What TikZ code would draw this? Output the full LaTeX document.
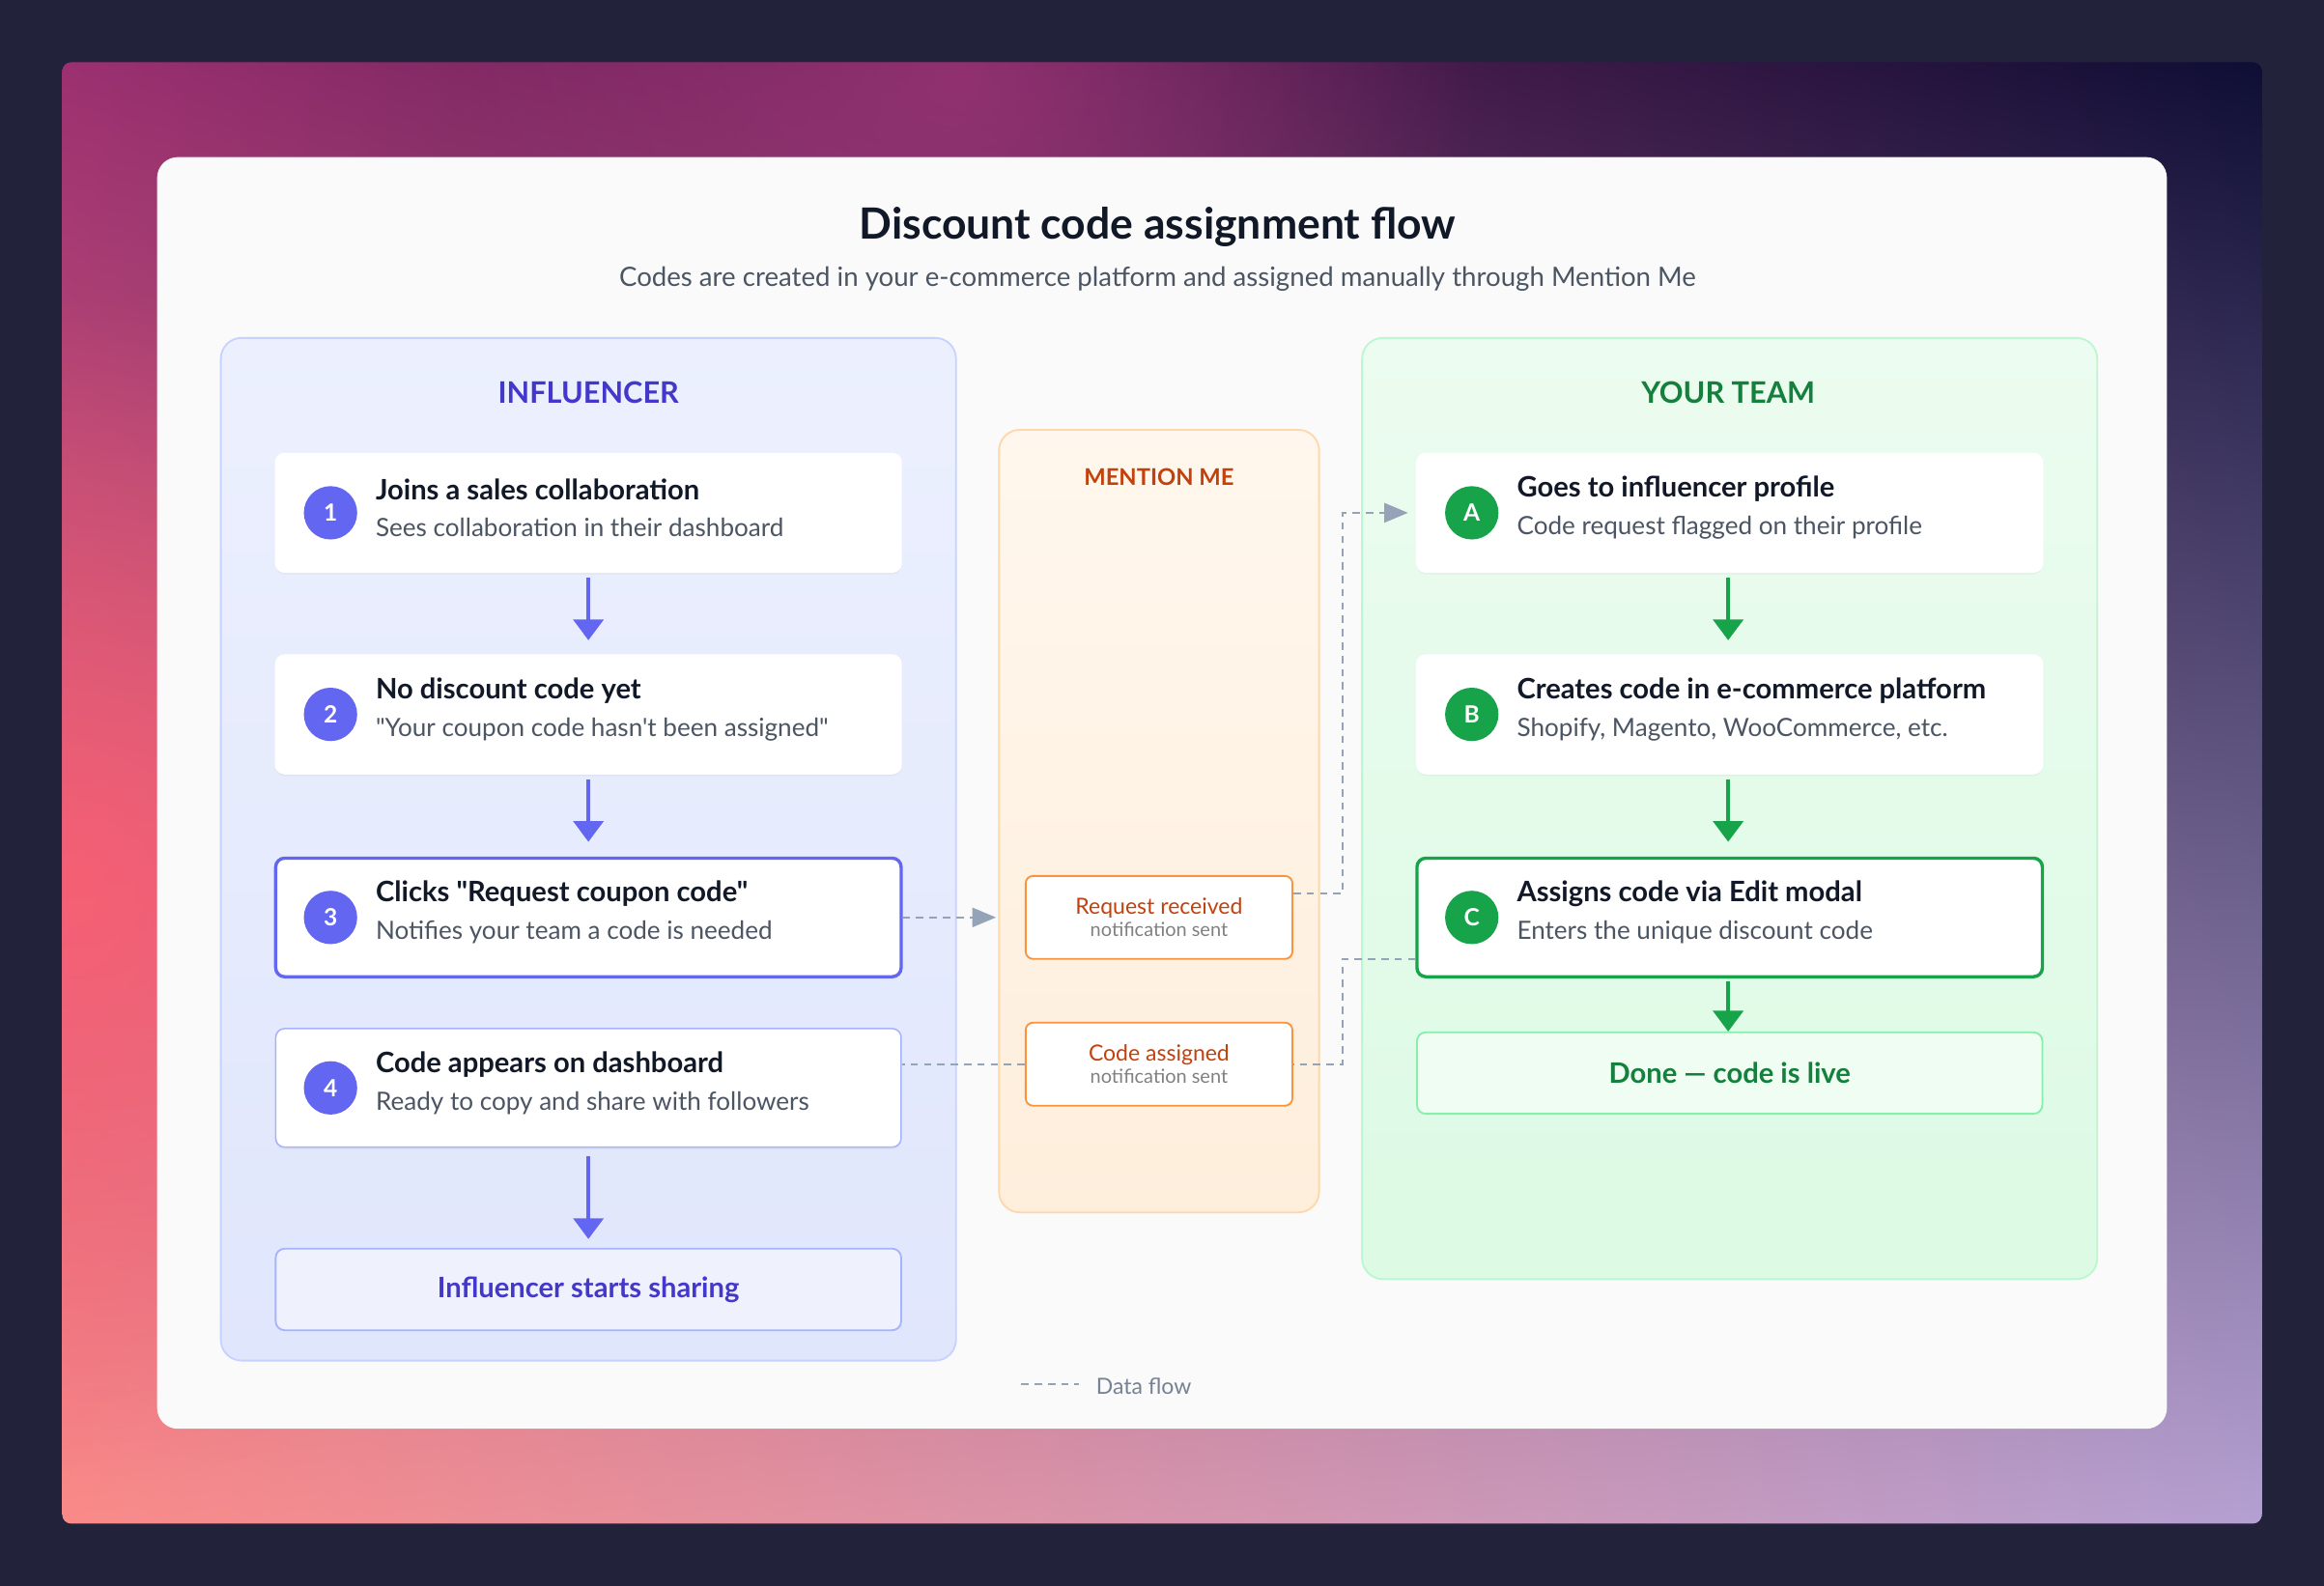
\documentclass[tikz,border=0pt]{standalone}
\usepackage{fontspec}
\setmainfont{Lato}[Ligatures=TeXOff]
\usetikzlibrary{arrows.meta,shadows,shadings,fadings}
\tikzfading[name=blob, inner color=transparent!0, outer color=transparent!100]
\definecolor{ind}{HTML}{4338CA}
\definecolor{indc}{HTML}{6366F1}
\definecolor{grn}{HTML}{15803D}
\definecolor{grnc}{HTML}{16A34A}
\definecolor{org}{HTML}{C2410C}
\definecolor{ttl}{HTML}{111827}
\definecolor{sub}{HTML}{4B5563}
\definecolor{flow}{HTML}{94A3B8}
\definecolor{bgd}{HTML}{22223A}
\definecolor{gul}{HTML}{9C3070}
\definecolor{gur}{HTML}{0E0E34}
\definecolor{gll}{HTML}{FA8A88}
\definecolor{glr}{HTML}{B4A0D2}
\definecolor{gpk}{HTML}{FF5F72}
\definecolor{gmg}{HTML}{B03A80}
\definecolor{cardbg}{HTML}{FAFAFA}
\definecolor{inft}{HTML}{ECF0FE}
\definecolor{infb}{HTML}{E0E6FC}
\definecolor{infd}{HTML}{C7D2FE}
\definecolor{mmt}{HTML}{FFF7ED}
\definecolor{mmb}{HTML}{FEEEDC}
\definecolor{mmd}{HTML}{FED7AA}
\definecolor{tmt}{HTML}{ECFCF0}
\definecolor{tmb}{HTML}{DCFAE4}
\definecolor{tmd}{HTML}{BBF7D0}
\definecolor{ib}{HTML}{A5B4FC}
\definecolor{ibf}{HTML}{EFF1FD}
\definecolor{gb}{HTML}{86EFAC}
\definecolor{gbf}{HTML}{EFFDF3}
\definecolor{ob}{HTML}{FB923C}
\tikzset{
 card/.style={draw=#1,line width=1pt,fill=white,rounded corners=6pt,minimum width=422pt,minimum height=80pt,drop shadow={shadow xshift=0pt,shadow yshift=-1.5pt,opacity=0.08}},
 num/.style={circle,fill=#1,minimum size=36pt,inner sep=0pt,text=white,font=\fontsize{16}{16}\selectfont\bfseries},
 head/.style={anchor=west,font=\fontsize{19}{19}\selectfont\bfseries,text=ttl},
 desc/.style={anchor=west,font=\fontsize{17}{17}\selectfont,text=sub},
 varr/.style={-{Triangle[length=14pt,width=20pt]},line width=3pt,draw=#1},
 dflow/.style={draw=flow,line width=1.5pt,dash pattern=on 5pt off 4pt},
 mbox/.style={draw=ob,line width=1.2pt,fill=white,rounded corners=5pt,minimum width=180pt,minimum height=56pt,align=center},
}
\begin{document}
\begin{tikzpicture}[x=1pt,y=-1pt]
\fill[bgd] (0,0) rectangle (1568,1070);
\useasboundingbox (0,0) rectangle (1568,1070);
\begin{scope}
\clip[rounded corners=6pt] (42,42) rectangle (1526,1028);
\shade[upper left=gul,upper right=gur,lower left=gll,lower right=glr] (42,42) rectangle (1526,1028);
\fill[gpk,path fading=blob,fill opacity=0.8] (-350,200) rectangle (450,1000);
\fill[gmg,path fading=blob,fill opacity=0.6] (300,-250) rectangle (1000,350);
\end{scope}
\fill[rounded corners=14pt,cardbg] (106,106) rectangle (1462,964);
\node[font=\fontsize{29}{29}\selectfont\bfseries,text=ttl] (title) at (781,153) {Discount code assignment flow};
\node[font=\fontsize{18}{18}\selectfont,text=sub] (subtitle) at (781,188) {Codes are created in your e-commerce platform and assigned manually through Mention Me};
% lanes
\shade[rounded corners=14pt,top color=inft,bottom color=infb,draw=infd,line width=1.2pt] (149,228) rectangle (645,918);
\shade[rounded corners=14pt,top color=mmt,bottom color=mmb,draw=mmd,line width=1.2pt] (674,290) rectangle (890,818);
\shade[rounded corners=14pt,top color=tmt,bottom color=tmb,draw=tmd,line width=1.2pt] (919,228) rectangle (1415,863);
\node[font=\fontsize{20}{20}\selectfont\bfseries,text=ind] (linf) at (397,265) {INFLUENCER};
\node[font=\fontsize{15.5}{15}\selectfont\bfseries,text=org] (lmm) at (782,322) {MENTION ME};
\node[font=\fontsize{20}{20}\selectfont\bfseries,text=grn] (lteam) at (1166,265) {YOUR TEAM};
% influencer cards
\node[card=white] (c1) at (397,346) {};
\node[card=white] (c2) at (397,482) {};
\node[card=indc,line width=2.2pt] (c3) at (397,619) {};
\node[card=ib] (c4) at (397,734) {};
\node[draw=ib,line width=1.2pt,fill=ibf,rounded corners=6pt,minimum width=422pt,minimum height=55pt,font=\fontsize{19}{19}\selectfont\bfseries,text=ind] (c5) at (397,870) {Influencer starts sharing};
\foreach \n/\y/\h/\d in {1/346/{Joins a sales collaboration}/{Sees collaboration in their dashboard},
 2/482/{No discount code yet}/{"Your coupon code hasn't been assigned"},
 3/619/{Clicks "Request coupon code"}/{Notifies your team a code is needed},
 4/734/{Code appears on dashboard}/{Ready to copy and share with followers}}{
 \node[num=indc] (n\n) at (223,\y) {\n};
 \node[head] (h\n) at (250,\y-16) {\h};
 \node[desc] (d\n) at (250,\y+10) {\d};
}
\draw[varr=indc] (397,390) -- (397,432);
\draw[varr=indc] (397,526) -- (397,568);
\draw[varr=indc] (397,780) -- (397,836);
% team cards
\node[card=white] (t1) at (1167,346) {};
\node[card=white] (t2) at (1167,482) {};
\node[card=grnc,line width=2.2pt] (t3) at (1167,619) {};
\node[draw=gb,line width=1.2pt,fill=gbf,rounded corners=6pt,minimum width=422pt,minimum height=55pt,font=\fontsize{19}{19}\selectfont\bfseries,text=grn] (t4) at (1167,724) {Done — code is live};
\foreach \n/\y/\h/\d in {A/346/{Goes to influencer profile}/{Code request flagged on their profile},
 B/482/{Creates code in e-commerce platform}/{Shopify, Magento, WooCommerce, etc.},
 C/619/{Assigns code via Edit modal}/{Enters the unique discount code}}{
 \node[num=grnc] (n\n) at (993,\y) {\n};
 \node[head] (h\n) at (1020,\y-16) {\h};
 \node[desc] (d\n) at (1020,\y+10) {\d};
}
\draw[varr=grnc] (1166,390) -- (1166,432);
\draw[varr=grnc] (1166,526) -- (1166,568);
\draw[varr=grnc] (1166,662) -- (1166,696);
% mention boxes
\node[mbox] (m1) at (782,619) {\fontsize{15}{17}\selectfont\color{org}Request received\\[2pt]\fontsize{13}{15}\selectfont\color{gray}notification sent};
\node[mbox] (m2) at (782,718) {\fontsize{15}{17}\selectfont\color{org}Code assigned\\[2pt]\fontsize{13}{15}\selectfont\color{gray}notification sent};
% flows
\draw[dflow,-{Triangle[length=16pt,width=13pt]}] (c3.east) -- (672,619);
\draw[dflow,-{Triangle[length=16pt,width=13pt]}] (m1.east |- 0,603) -- (906,603) -- (906,346) -- (950,346);
\draw[dflow] (t3.west |- 0,647) -- (906,647) -- (906,718) -- (m2.east);
\draw[dflow] (m2.west) -- (c4.east |- m2.west);
\coordinate (l1) at (689,934); \coordinate (l2) at (728,934);
\draw[dflow] (l1) -- (l2);
\node[anchor=west,font=\fontsize{15}{15}\selectfont,text=flow!80!black] (leg) at (736,935) {Data flow};
\end{tikzpicture}
\end{document}
